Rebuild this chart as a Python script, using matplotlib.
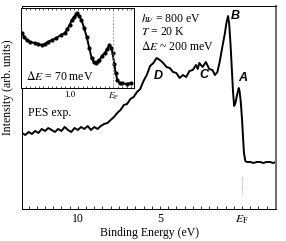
import numpy as np
import matplotlib
matplotlib.use("Agg")
import matplotlib.pyplot as plt
from matplotlib.ticker import MultipleLocator, FixedLocator

plt.rcParams['font.family'] = 'Liberation Serif'
plt.rcParams['mathtext.fontset'] = 'stix'

# main spectrum (binding energy in eV, intensity in arb. units)
energy = [13.4, 13.2, 13.0, 12.8, 12.6, 12.4, 12.2, 12.0, 11.8, 11.6, 11.4, 11.2,
          11.0, 10.8, 10.6, 10.4, 10.2, 10.0, 9.8, 9.6, 9.4, 9.2, 9.0, 8.8, 8.6,
          8.4, 8.2, 8.0, 7.8, 7.6, 7.4, 7.2, 7.0, 6.8, 6.6, 6.4, 6.2, 6.0, 5.8,
          5.6, 5.4, 5.2, 5.0, 4.8, 4.6, 4.4, 4.2, 4.0, 3.8, 3.6, 3.4, 3.2, 3.0,
          2.8, 2.7, 2.6, 2.4, 2.2, 2.0, 1.8, 1.65, 1.5, 1.35, 1.2, 1.05, 0.95,
          0.85, 0.78, 0.70, 0.62, 0.55, 0.48, 0.40, 0.30, 0.20, 0.15, 0.08, 0.0,
          -0.06, -0.12, -0.2, -0.3, -0.5, -0.7, -0.9, -1.1, -1.3, -1.5, -1.7,
          -1.9, -2.07]
intensity = [76, 74, 77, 75, 78, 76, 80, 78, 81, 79, 77, 80,
             78, 82, 79, 77, 81, 79, 82, 80, 83, 79, 82, 80, 83,
             85, 86, 89, 92, 96, 99, 104, 105, 110, 112, 117, 120, 128, 134,
             143, 146, 151, 149, 146, 142, 141, 137, 136, 131, 134, 132, 138, 139,
             144, 140, 146, 142, 147, 140, 139, 134, 137, 148, 162, 175, 186,
             193, 185, 165, 140, 118, 103, 106, 114, 121, 118, 108, 90,
             72, 56, 48, 47, 47, 46, 47, 47, 46, 47, 47,
             46, 47]

# inset: high resolution spectrum near E_F
energy_hr = [2.09, 2.04, 1.98, 1.90, 1.80, 1.72, 1.64, 1.56, 1.50, 1.40, 1.30,
             1.20, 1.11, 1.05, 1.0, 0.95, 0.89, 0.85, 0.82, 0.78, 0.73, 0.67,
             0.61, 0.55, 0.50, 0.45, 0.40, 0.36, 0.32, 0.26, 0.20, 0.14, 0.09,
             0.05, 0.02, -0.02, -0.05, -0.09, -0.14, -0.2, -0.3, -0.41]
intensity_hr = [55, 51, 48, 46, 45, 44, 43, 44, 46, 48, 50,
                53, 55, 59, 63, 68, 71, 74, 75, 72, 68, 60,
                51, 40, 30, 26, 25, 27, 28, 32, 35, 39, 43,
                40, 35, 24, 15, 8, 5, 5, 4, 5]

fig = plt.figure(figsize=(2.86, 2.41), dpi=100)
ax = fig.add_axes([0.077, 0.133, 0.888, 0.842])
ax.plot(energy, intensity, color='black', lw=1.4)
ax.plot([0, 0], [15, 33], color='grey', lw=0.6, ls=':')
ax.set_xlim(13.4, -2.07)
ax.set_ylim(0, 203)
ax.set_yticks([])
ax.xaxis.set_major_locator(FixedLocator([10, 5, 0]))
ax.set_xticklabels(['10', '5', r'$E_\mathrm{F}$'], fontsize=8.5)
ax.xaxis.set_minor_locator(MultipleLocator(0.5))
ax.tick_params(axis='x', which='both', direction='in', length=2.5, width=0.6, pad=3)
ax.set_xlabel('Binding Energy (eV)', fontsize=8.5, labelpad=1)
ax.set_ylabel('Intensity (arb. units)', fontsize=8.5)
ax.yaxis.set_label_coords(-0.032, 0.6)
for s in ax.spines.values():
    s.set_linewidth(0.7)
ax.spines['right'].set_linewidth(1.5)
ax.spines['right'].set_color('0.45')

ax.text(0.47, 0.965, r'$h\nu$ = 800 eV', transform=ax.transAxes, fontsize=8.5, va='top')
ax.text(0.47, 0.90, r'$T$ = 20 K', transform=ax.transAxes, fontsize=8.5, va='top')
ax.text(0.47, 0.835, r'$\Delta E$ ~ 200 meV', transform=ax.transAxes, fontsize=8.5, va='top')
ax.text(0.025, 0.475, 'PES exp.', transform=ax.transAxes, fontsize=8.5, va='center')

lab = dict(fontsize=9, fontweight='bold', fontstyle='italic', family='Liberation Sans',
           ha='center', va='center')
ax.text(0.4, 193, 'B', **lab)
ax.text(-0.05, 131, 'A', **lab)
ax.text(2.35, 134, 'C', **lab)
ax.text(5.1, 133, 'D', **lab)

ins = fig.add_axes([0.075, 0.635, 0.395, 0.332])
ins.plot(energy_hr, intensity_hr, color='black', lw=1.4, marker='o', ms=2)
ins.axvline(0, color='grey', lw=0.6, ls=(0, (2, 2)))
ins.set_xlim(2.1, -0.48)
ins.set_ylim(0, 80)
ins.set_yticks([])
ins.xaxis.set_major_locator(FixedLocator([1.0, 0]))
ins.set_xticklabels(['1.0', r'$E_\mathrm{F}$'], fontsize=6.5)
ins.xaxis.set_minor_locator(MultipleLocator(0.1))
ins.tick_params(axis='x', which='both', direction='in', length=1.5, width=0.5,
                top=True, pad=2)
for s in ins.spines.values():
    s.set_linewidth(0.7)
ins.text(0.04, 0.14, r'$\Delta E$ = 70 meV', transform=ins.transAxes, fontsize=8.5,
         va='center')

fig.savefig('out.png', dpi=100)
